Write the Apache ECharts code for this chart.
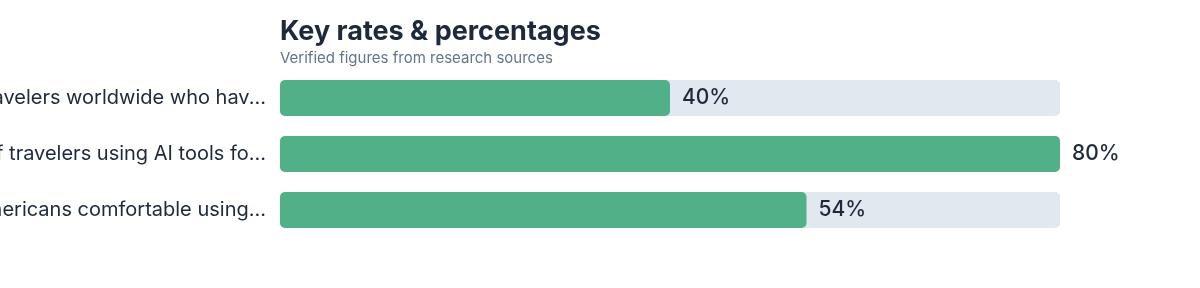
<!DOCTYPE html>
<html>
<head>
<meta charset="utf-8">
<script src="https://cdn.jsdelivr.net/npm/echarts@6/dist/echarts.min.js"></script>
<style>
  html, body { margin: 0; padding: 0; background: #ffffff; }
  #main { width: 1200px; height: 288px; }
</style>
</head>
<body>
<div id="main"></div>
<script>
var categories = [
    'Travelers worldwide who have used AI for travel planning',
    '# of travelers using AI tools for trip research',
    'Americans comfortable using AI travel agents'
];
var values = [40, 80, 54];

var myChart = echarts.init(document.getElementById('main'));
var option = {
    backgroundColor: '#ffffff',
    textStyle: { fontFamily: 'Inter' },
    title: {
        text: 'Key rates & percentages',
        subtext: 'Verified figures from research sources',
        left: 275,
        top: 13,
        itemGap: 6,
        textStyle: { fontFamily: 'Inter', fontSize: 27, fontWeight: 'bold', color: '#1e293b' },
        subtextStyle: { fontFamily: 'Inter', fontSize: 15, color: '#64748b' }
    },
    grid: {
        left: 280,
        right: 140,
        top: 70,
        bottom: 50,
        containLabel: false,
        outerBoundsMode: 'none'
    },
    xAxis: {
        type: 'value',
        min: 0,
        max: Math.max.apply(null, values),
        show: false
    },
    yAxis: {
        type: 'category',
        inverse: true,
        data: categories,
        axisLine: { show: false },
        axisTick: { show: false },
        axisLabel: {
            margin: 14,
            width: 302,  // long labels get cut with an ellipsis
            overflow: 'truncate',
            fontFamily: 'Inter',
            fontSize: 20,
            color: '#1e293b'
        }
    },
    series: [{
        type: 'bar',
        data: values,
        barWidth: 36,
        showBackground: true,
        backgroundStyle: { color: '#e2e8f0', borderRadius: 5 },
        itemStyle: { color: '#52b088', borderRadius: 5 },
        label: {
            show: true,
            position: 'right',
            distance: 12,
            formatter: '{c}%',
            fontFamily: 'Inter',
            fontSize: 21,
            fontWeight: 500,
            color: '#1e293b'
        }
    }]
};
myChart.setOption(option);
</script>
</body>
</html>
